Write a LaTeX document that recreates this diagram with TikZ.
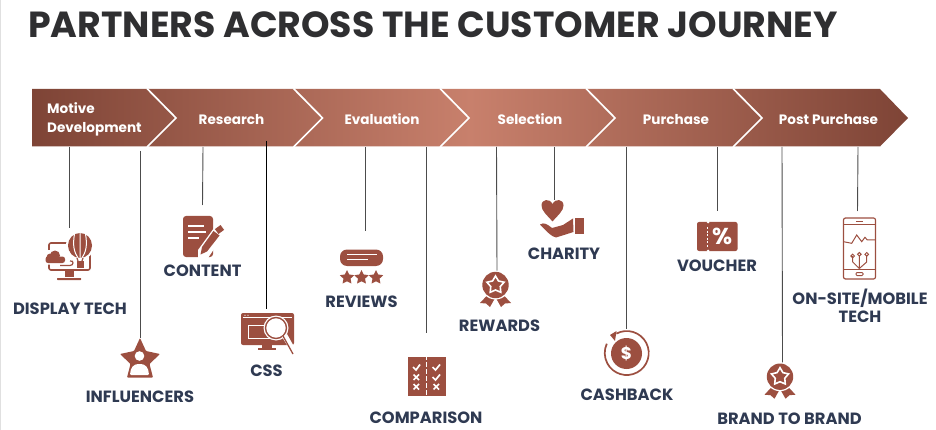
\documentclass[tikz,border=0pt]{standalone}
\usepackage{fontspec}
\setmainfont{Poppins}
\usetikzlibrary{shapes.geometric,calc}
\definecolor{rust}{HTML}{9C4F40}
\definecolor{ink}{HTML}{2F3A52}
\definecolor{titleink}{HTML}{2F2F31}
\definecolor{bardark}{HTML}{7E4436}
\definecolor{barlight}{HTML}{C8806C}
\tikzset{
  lab/.style={font=\fontsize{16.3}{20}\bfseries\selectfont,text=ink,inner sep=0pt,align=center},
  stage/.style={font=\fontsize{13.6}{19}\bfseries\selectfont,text=white,inner sep=0pt,align=left},
  conn/.style={draw=black!70,line width=0.9pt},
  sep/.style={draw=white,line width=1.7pt},
  ic/.style={fill=rust,draw=none},
  icl/.style={draw=rust,line width=1pt,fill=none},
}
\newcommand{\ribbonbadge}[2]{% x y of circle centre
  \begin{scope}[shift={(#1,#2)}]
    \fill[ic] (-8,10) -- (-15.5,18) -- (-9.5,18.5) -- (-5.5,22) -- (-1,14) -- cycle;
    \fill[ic] (8,10) -- (15.5,18) -- (9.5,18.5) -- (5.5,22) -- (1,14) -- cycle;
    \fill[white] (0,0) circle (14.5);
    \fill[ic] (0,0) circle (13.2);
    \node[star,star points=5,star point ratio=1.8,minimum size=18pt,inner sep=0pt,draw=white,line width=1.6pt,fill=rust] at (0,0) {};
  \end{scope}
}
\begin{document}
\begin{tikzpicture}[x=1pt,y=-1pt]
\useasboundingbox (0,0) rectangle (936,430);
\fill[black!12!white] (0,0) rectangle (1.2,430);
\node[anchor=base west,inner sep=0pt,font=\fontsize{36.3}{40}\bfseries\selectfont,text=titleink] (title) at (28,37.5) {PARTNERS ACROSS THE CUSTOMER JOURNEY};
% bar
\shade[left color=bardark,right color=bardark,middle color=barlight]
  (32,89) -- (880,89) -- (908,118) -- (880,146.5) -- (32,146.5) -- cycle;
\foreach \sx in {147,293.5,440,586,733}
  \draw[sep,miter limit=10] (\sx,88.5) -- (\sx+29,118) -- (\sx,147);
\node[stage,anchor=west] (s1) at (47,119) {Motive\\Development};
\node[stage] (s2) at (231.5,119.5) {Research};
\node[stage] (s3) at (382,119.5) {Evaluation};
\node[stage] (s4) at (530,119.5) {Selection};
\node[stage] (s5) at (676,119.5) {Purchase};
\node[stage] (s6) at (828.5,119.5) {Post Purchase};
% connector ends
\coordinate (t1) at (69,147);   \coordinate (e1) at (69,228);
\coordinate (t2) at (140,151);  \coordinate (e2) at (140,338);
\coordinate (t3) at (203,147);  \coordinate (e3) at (202.5,205);
\coordinate (t4) at (266.5,141);\coordinate (e4) at (266.5,309);
\coordinate (t5) at (365,147);  \coordinate (e5) at (365,231);
\coordinate (t6) at (426.5,147);\coordinate (e6) at (426.5,333);
\coordinate (t7) at (496.5,147);\coordinate (e7) at (497,272);
\coordinate (t8) at (554,147);  \coordinate (e8) at (554,200);
\coordinate (t9) at (626.5,147);\coordinate (e9) at (626.5,329);
\coordinate (t10) at (717,147); \coordinate (e10) at (717,211);
\coordinate (t11) at (782,147); \coordinate (e11) at (782.5,363);
\coordinate (t12) at (858,147); \coordinate (e12) at (857.5,211);
\foreach \i in {1,2,3,5,6,7,8,9,10,11,12} \draw[conn] (t\i) -- (e\i);
\draw[draw=black,line width=0.9pt] (t4) -- (e4);
% labels
\node[lab] (l1) at (70,308.5) {DISPLAY TECH};
\node[lab] (l2) at (140,396.5) {INFLUENCERS};
\node[lab] (l3) at (202.5,270.5) {CONTENT};
\node[lab] (l4) at (266.5,370.5) {CSS};
\node[lab] (l5) at (361.5,301.5) {REVIEWS};
\node[lab] (l6) at (426,417.5) {COMPARISON};
\node[lab] (l7) at (499.5,325.5) {REWARDS};
\node[lab] (l8) at (564,254) {CHARITY};
\node[lab] (l9) at (627,394.5) {CASHBACK};
\node[lab] (l10) at (717,265.5) {VOUCHER};
\node[lab] (l11) at (860,306) {ON-SITE/MOBILE\\[-2pt]TECH};
\node[lab] (l12) at (789.5,419) {BRAND TO BRAND};
% display tech icon
\draw[icl,line width=1.6pt,rounded corners=2] (49,243) rectangle (90,270);
\fill[ic] (65,270) rectangle (74,277);
\fill[ic,rounded corners=.5] (57,278) rectangle (81,280);
\fill[white] (80,245.5) ellipse (14 and 14.5);
\fill[ic] (80,245.5) ellipse (12 and 12.5);
\draw[white,line width=1pt] (80,233) -- (80,258) (74.5,234) .. controls (72.5,245) and (74,252) .. (78,258) (85.5,234) .. controls (87.5,245) and (86,252) .. (82,258);
\draw[icl,line width=1.2pt] (77,258) -- (78,261) (83,258) -- (82,261);
\fill[ic] (76.5,261) rectangle (84,268);
\fill[white,rounded corners=3] (45,250) rectangle (70,264.5);
\fill[ic,rounded corners=2.5] (45.5,256.5) rectangle (65,263);
\fill[ic] (55,255.5) circle (5) (50,257) circle (3.4);
\draw[icl,line width=1.2pt] (60,265.5) -- (70,265.5) .. controls (74,265.5) and (74,260) .. (70,261);
% influencers star
\fill[ic,rounded corners=.8] (140,338) -- (146,351) -- (160,354) -- (149.5,364) -- (153,377.5) -- (127,377.5) -- (130.5,364) -- (120,354) -- (134,351) -- cycle;
\fill[white] (139.5,356) circle (4.8);
\fill[white,rounded corners=1] (130,375) .. controls (130.5,367) and (134,364) .. (139.5,364) .. controls (145,364) and (148.5,367) .. (149,375) -- cycle;
% content
\fill[ic,rounded corners=3] (183,216) rectangle (213,257);
\draw[white,line width=1.6pt] (188,226) -- (204,226) (188,232) -- (206,232) (188,238) -- (199,238);
\fill[white] (198,258) -- (198,250) -- (214,228) -- (224,234) -- (208,258) -- cycle;
\fill[ic] (200.5,254.5) -- (202,247) -- (213.5,231) -- (219.5,235.5) -- (207,251.5) -- cycle;
\fill[ic,rotate around={36:(219.5,229.5)}] (216,226.5) rectangle (223,232.5);
% css
\fill[ic,rounded corners=2] (241,313) rectangle (294,345);
\fill[white] (243,317) rectangle (292,318.2);
\fill[white] (245,315.3) circle (.6) (248,315.3) circle (.6);
\fill[ic] (262,345) rectangle (272,348);
\fill[ic] (258,348) rectangle (276,349.5);
\fill[white] (248,325) rectangle (270,339);
\fill[ic] (249,326) rectangle (269,338);
\fill[white] (276,328) circle (12.5);
\draw[rust,line width=1.4pt] (276,328) circle (10.5);
\fill[white] (282,337) -- (287,334) -- (297,352) -- (294,356) -- cycle;
\draw[rust,line width=1.3pt] (283,336) -- (293,354);
% reviews
\fill[ic,rounded corners=7] (340,249.5) rectangle (383,266);
\draw[white,line width=1.4pt] (347,254.5) -- (377,254.5) (347,259.5) -- (368,259.5);
\foreach \xx in {347,361.5,376}
  \node[star,star points=5,star point ratio=2,minimum size=15pt,inner sep=0pt,fill=rust] at (\xx,277.5) {};
% comparison
\fill[ic] (407.5,357) rectangle (445.5,396);
\draw[white,line width=1.6pt,dash pattern=on 5pt off 2pt] (426.5,355) -- (426.5,398);
\draw[white,line width=1.7pt] (413,367) -- (416,370) -- (420,364.5)
  (432.5,367) -- (435.5,370) -- (440,364.5)
  (432.5,377) -- (435.5,380) -- (440,374.5);
\draw[white,line width=1.7pt] (413.5,374.5) -- (419,380) (419,374.5) -- (413.5,380)
  (413.5,384) -- (419,389.5) (419,384) -- (413.5,389.5)
  (433.5,384) -- (439,389.5) (439,384) -- (433.5,389.5);
% rewards
\ribbonbadge{495.5}{285}
% charity
\fill[ic] (575,218) rectangle (583.5,234);
\fill[ic] (540,224.5) .. controls (544,222) and (547,224) .. (552,228) -- (563,225) -- (573,218.5) -- (573.5,232) -- (556,237.5) .. controls (552,237) and (546,231) .. (540,224.5) -- cycle;
\fill[ic] (552.5,221.5) .. controls (547,215) and (541.5,211) .. (541.5,205.5) .. controls (541.5,199) and (549.5,198) .. (552.5,204) .. controls (555.5,198) and (563.5,199) .. (563.5,205.5) .. controls (563.5,211) and (558,215) .. (552.5,221.5) -- cycle;
% cashback
\draw[rust,line width=1.7pt] (616.4,333.6) arc[start angle=-118,end angle=205,radius=22];
\fill[ic] (616.5,331) -- (610,335) -- (615,341) -- cycle;
\fill[ic] (626.5,353.5) circle (15.5);
\node[inner sep=0pt,text=white,font=\fontsize{17}{17}\bfseries\selectfont] at (626.5,353.5) {\$};
% voucher
\fill[ic,rounded corners=2] (697,222) rectangle (737.5,251);
\fill[white] (708,222) circle (1.5) (708,251) circle (1.5);
\draw[white,line width=1.2pt,dash pattern=on 2pt off 1.6pt] (707.5,227) -- (707.5,247);
\node[inner sep=0pt,text=white,font=\fontsize{23}{23}\bfseries\selectfont] at (722,236.5) {\%};
% mobile
\draw[icl,line width=1.2pt,rounded corners=2] (843.5,218) rectangle (875.5,279);
\draw[icl] (843.5,224.5) -- (875.5,224.5) (843.5,269) -- (875.5,269);
\draw[icl,line width=1.2pt] (856,221.3) -- (863,221.3);
\draw[icl,rounded corners=1] (856,272.5) rectangle (863,275.5);
\draw[icl] (843.5,241.7) -- (851.7,243.3) -- (856.7,235) -- (861.7,241.7) -- (865,237.3) -- (867.3,240) -- (875.5,240);
\draw[icl] (852.7,256) -- (852.7,262) -- (859.3,268.5) (859.3,256) -- (859.3,268.5) (866.7,256) -- (866.7,262) -- (859.3,268.5);
\draw[icl] (852.7,256) circle (1.8) (859.3,254.3) circle (1.8) (866.7,254.3) circle (1.8);
% brand
\ribbonbadge{780}{376.7}
\end{tikzpicture}
\end{document}
